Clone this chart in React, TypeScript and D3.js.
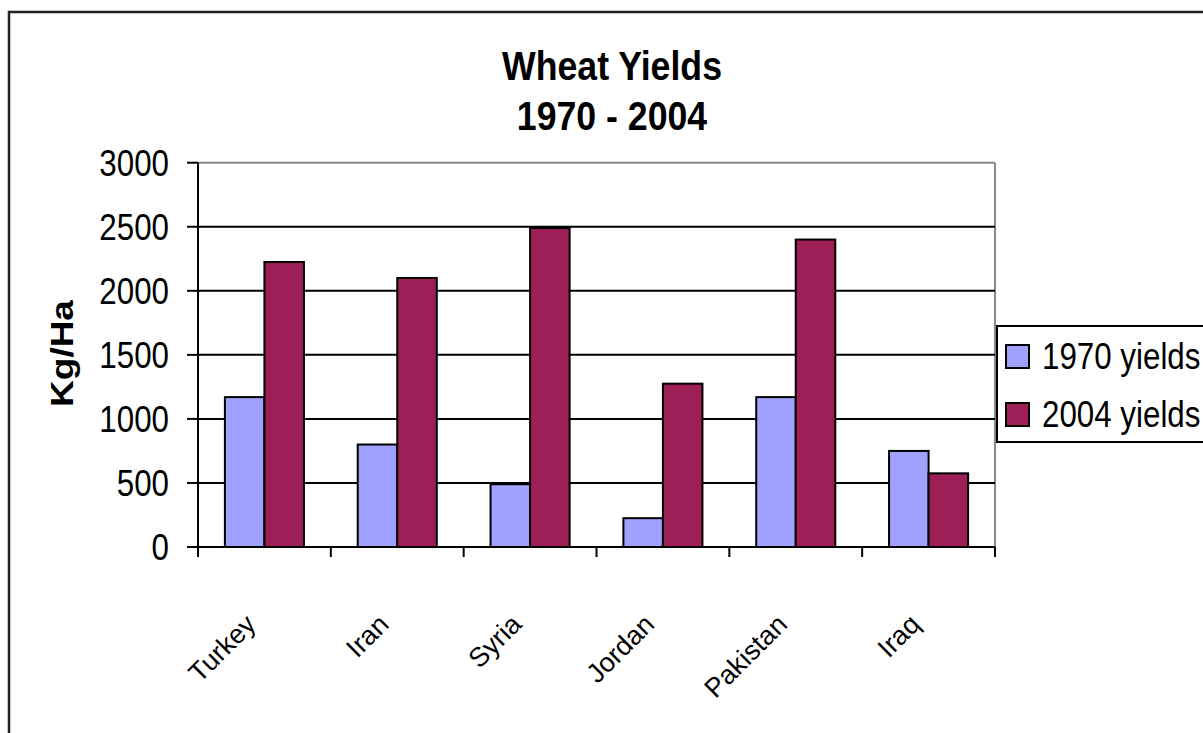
import * as React from 'react';
import * as d3 from 'd3';

const countries = ['Turkey', 'Iran', 'Syria', 'Jordan', 'Pakistan', 'Iraq'];
const yields1970 = [1170, 800, 490, 225, 1170, 750];
const yields2004 = [2225, 2100, 2490, 1275, 2400, 575];
const seriesNames = ['1970 yields', '2004 yields'];
const yTicks = [0, 500, 1000, 1500, 2000, 2500, 3000];

const colors = ['#a0a0ff', '#9e1f58'];
const font = '"Liberation Sans", Arial, sans-serif';
const squeeze = 0.87;

const W = 1203;
const H = 733;
const plot = { left: 198, right: 995, top: 162.7, bottom: 547 };

export default function App() {
  const x = d3.scaleBand<string>().domain(countries).range([plot.left, plot.right]).padding(0);
  const inner = d3
    .scaleBand<string>()
    .domain(seriesNames)
    .range([0, x.bandwidth()])
    .paddingInner(0)
    .paddingOuter(0.68);
  const y = d3.scaleLinear().domain([0, 3000]).range([plot.bottom, plot.top]);

  const series = [yields1970, yields2004];
  const boundaries = countries.map(c => x(c)!).concat([plot.right]);

  return (
    <svg
      width={W}
      height={H}
      style={{ position: 'absolute', left: 0, top: 0, background: '#fff' }}
      fontFamily={font}
    >
      <rect x={0} y={0} width={W} height={H} fill="#fff" />
      {/* outer frame, cut off at the right and bottom */}
      <rect x={9} y={12} width={W + 40} height={H + 40} fill="none" stroke="#222" strokeWidth={2.5} />

      {/* title */}
      <g fontWeight="bold" fontSize={41} textAnchor="middle" fill="#000">
        <text transform={`translate(612,80) scale(${squeeze},1)`}>Wheat Yields</text>
        <text transform={`translate(612,130) scale(${squeeze},1)`}>1970 - 2004</text>
      </g>

      {/* plot border top / right */}
      <line x1={plot.left} x2={plot.right} y1={y(3000)} y2={y(3000)} stroke="#888" strokeWidth={2} />
      <line x1={plot.right} x2={plot.right} y1={plot.top} y2={plot.bottom} stroke="#888" strokeWidth={2} />

      {/* gridlines */}
      {yTicks
        .filter(t => t > 0 && t < 3000)
        .map(t => (
          <line key={t} x1={plot.left} x2={plot.right} y1={y(t)} y2={y(t)} stroke="#000" strokeWidth={2} />
        ))}

      {/* bars */}
      {countries.map((c, i) =>
        series.map((s, j) => (
          <rect
            key={c + j}
            x={x(c)! + inner(seriesNames[j])!}
            y={y(s[i])}
            width={inner.bandwidth()}
            height={y(0) - y(s[i])}
            fill={colors[j]}
            stroke="#000"
            strokeWidth={2}
          />
        ))
      )}

      {/* y axis */}
      <line x1={plot.left} x2={plot.left} y1={plot.top} y2={plot.bottom} stroke="#000" strokeWidth={2} />
      {yTicks.map(t => (
        <g key={t}>
          <line x1={187} x2={plot.left} y1={y(t)} y2={y(t)} stroke="#000" strokeWidth={2} />
          <text
            transform={`translate(169,${y(t) + 13}) scale(${squeeze},1)`}
            textAnchor="end"
            fontSize={36}
            fill="#000"
          >
            {t}
          </text>
        </g>
      ))}
      <text
        transform={`translate(73,353.5) scale(${squeeze},1) rotate(-90)`}
        textAnchor="middle"
        fontSize={37}
        fontWeight="bold"
        fill="#000"
      >
        Kg/Ha
      </text>

      {/* x axis */}
      <line x1={plot.left} x2={plot.right} y1={plot.bottom} y2={plot.bottom} stroke="#000" strokeWidth={2} />
      {boundaries.map((b, i) => (
        <line key={i} x1={b} x2={b} y1={plot.bottom} y2={557} stroke="#000" strokeWidth={2} />
      ))}
      {countries.map(c => (
        <text
          key={c}
          transform={`translate(${x(c)! + x.bandwidth() / 2 - 7},626) rotate(-45)`}
          textAnchor="end"
          fontSize={27}
          fill="#000"
        >
          {c}
        </text>
      ))}

      {/* legend */}
      <rect x={997} y={326} width={240} height={116} fill="#fff" stroke="#000" strokeWidth={2} />
      {seriesNames.map((n, j) => (
        <g key={n}>
          <rect x={1006} y={345 + j * 58} width={23} height={23} fill={colors[j]} stroke="#000" strokeWidth={2} />
          <text transform={`translate(1042,${369 + j * 58}) scale(${squeeze},1)`} fontSize={36} fill="#000">
            {n}
          </text>
        </g>
      ))}
    </svg>
  );
}
